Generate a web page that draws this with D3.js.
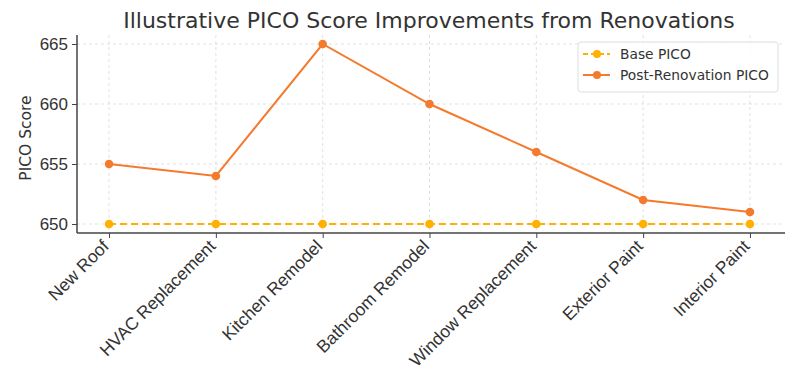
<!DOCTYPE html>
<html>
<head>
<meta charset="utf-8">
<script src="https://cdn.jsdelivr.net/npm/d3@7"></script>
<style>
  body { margin: 0; background: #fff; }
  svg { font-family: "DejaVu Sans", sans-serif; }
  .grid line { stroke: #d9d9d9; stroke-dasharray: 3,3; stroke-width: 0.8; }
</style>
</head>
<body>
<svg width="811" height="387"></svg>
<script>
const renovations = ["New Roof", "HVAC Replacement", "Kitchen Remodel", "Bathroom Remodel",
  "Window Replacement", "Exterior Paint", "Interior Paint"];
const basePico = [650, 650, 650, 650, 650, 650, 650];
const postPico = [655, 654, 665, 660, 656, 652, 651];
const yTicks = [650, 655, 660, 665];

const svg = d3.select("svg");
const mLeft = 77, mRight = 782, mTop = 35, mBottom = 233;

const x = d3.scaleLinear().domain([-0.3, renovations.length - 1 + 0.3]).range([mLeft, mRight]);
const y = d3.scaleLinear().domain([649.25, 665.75]).range([mBottom, mTop]);

// grid
const grid = svg.append("g").attr("class", "grid");
grid.selectAll(".gx").data(renovations).enter().append("line")
  .attr("x1", (d, i) => x(i)).attr("x2", (d, i) => x(i))
  .attr("y1", mTop).attr("y2", mBottom);
grid.selectAll(".gy").data(yTicks).enter().append("line")
  .attr("x1", mLeft).attr("x2", mRight)
  .attr("y1", d => y(d)).attr("y2", d => y(d));

// axes
const xAxis = svg.append("g")
  .attr("transform", `translate(0,${mBottom})`)
  .call(d3.axisBottom(x).tickValues(d3.range(renovations.length))
    .tickFormat(i => renovations[i]).tickSizeOuter(0).tickSize(5).tickPadding(4));
xAxis.selectAll(".tick text")
  .attr("text-anchor", "end")
  .attr("x", 0).attr("y", 0).attr("dy", "0.35em")
  .attr("transform", "translate(-4,10) rotate(-45)")
  .style("font-size", "17.5px").style("fill", "#333");

const yAxis = svg.append("g")
  .attr("transform", `translate(${mLeft},0)`)
  .call(d3.axisLeft(y).tickValues(yTicks).tickSizeOuter(0).tickSize(5).tickPadding(4));
yAxis.selectAll("text").style("font-size", "17px").style("fill", "#333");

svg.selectAll(".domain").attr("stroke", "#444").attr("stroke-width", 1.5);
svg.selectAll(".tick line").attr("stroke", "#444");
xAxis.select(".domain").attr("d", `M${mLeft},0H${mRight + 3}`);
yAxis.select(".domain").attr("d", `M0,${mTop}V${mBottom}`);

// title and label
svg.append("text").attr("x", 429).attr("y", 28).attr("text-anchor", "middle")
  .style("font-size", "22px").style("fill", "#333")
  .text("Illustrative PICO Score Improvements from Renovations");
svg.append("text").attr("transform", `translate(31,${(mTop + mBottom) / 2 + 4}) rotate(-90)`)
  .attr("text-anchor", "middle").style("font-size", "15.5px").style("fill", "#333")
  .text("PICO Score");

// series
const series = [
  { name: "Base PICO", values: basePico, color: "#ffb000", dash: "7,4" },
  { name: "Post-Renovation PICO", values: postPico, color: "#f47a2e", dash: null }
];
const line = d3.line().x((d, i) => x(i)).y(d => y(d));

series.forEach(s => {
  svg.append("path").datum(s.values)
    .attr("d", line).attr("fill", "none")
    .attr("stroke", s.color).attr("stroke-width", 2)
    .attr("stroke-dasharray", s.dash);
  svg.selectAll(null).data(s.values).enter().append("circle")
    .attr("cx", (d, i) => x(i)).attr("cy", d => y(d)).attr("r", 4.3)
    .attr("fill", s.color);
});

// legend
const lg = svg.append("g").attr("transform", "translate(578,42)");
lg.append("rect").attr("width", 200).attr("height", 50).attr("rx", 3)
  .attr("fill", "#fff").attr("fill-opacity", 0.85).attr("stroke", "#ddd");
series.forEach((s, i) => {
  const yy = 12 + i * 21;
  lg.append("line").attr("x1", 5).attr("x2", 32).attr("y1", yy).attr("y2", yy)
    .attr("stroke", s.color).attr("stroke-width", 2).attr("stroke-dasharray", s.dash ? "5,3" : null);
  lg.append("circle").attr("cx", 19).attr("cy", yy).attr("r", 4).attr("fill", s.color);
  lg.append("text").attr("x", 42).attr("y", yy + 5).style("font-size", "13.8px")
    .style("fill", "#333").text(s.name);
});
</script>
</body>
</html>
